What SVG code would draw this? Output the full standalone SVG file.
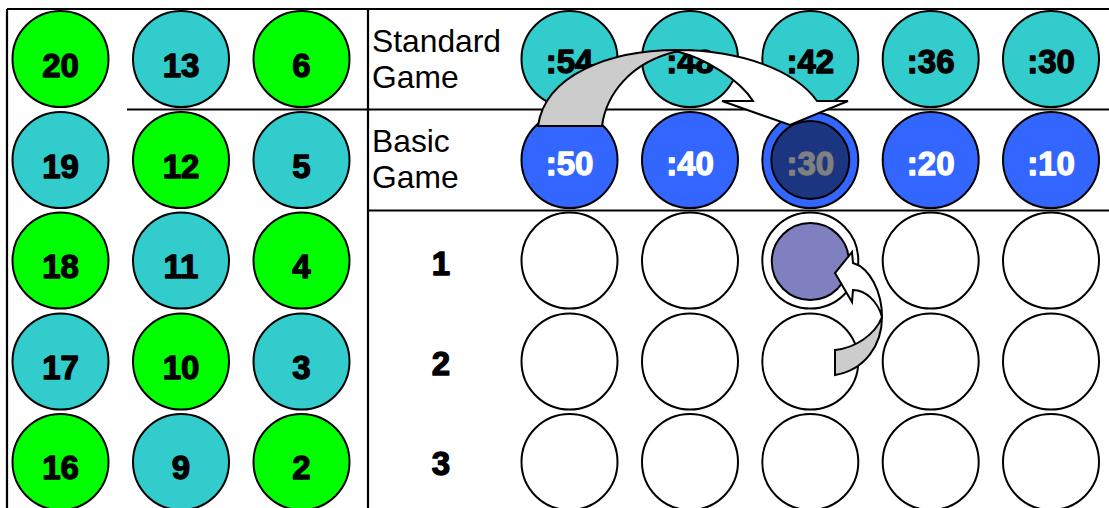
<svg xmlns="http://www.w3.org/2000/svg" width="1109" height="508" viewBox="0 0 1109 508">
<style>
.c{stroke:#000;stroke-width:2}
.g{fill:#00FF00}
.t{fill:#33CCCC}
.b{fill:#3366FF}
.w{fill:#FFFFFF}
.n{font-family:"Liberation Sans",Arial,sans-serif;font-weight:bold;font-size:33px;text-anchor:middle;fill:#000;stroke:#000;stroke-width:1.3;stroke-linejoin:round}
.nw{fill:#FFFFFF;stroke:#FFFFFF}
.ng{fill:#808080;stroke:#808080}
.lbl{font-family:"Liberation Sans",Arial,sans-serif;font-size:31.8px;fill:#000}
.ln{stroke:#000;stroke-width:2.2;fill:none}
.ar{stroke:#000;stroke-width:2;stroke-linejoin:miter}
</style>
<rect width="1109" height="508" fill="#FFFFFF"/>
<g id="grid-lines">
<line class="ln" x1="7" y1="9" x2="1109" y2="9"/>
<line class="ln" x1="7" y1="9" x2="7" y2="508"/>
<line class="ln" x1="368" y1="9" x2="368" y2="508"/>
<line class="ln" x1="127" y1="109.5" x2="1109" y2="109.5"/>
<line class="ln" x1="368" y1="210.5" x2="1109" y2="210.5"/>
</g>
<g id="left-panel">
<g id="n20"><circle class="c g" cx="60.5" cy="59" r="48"/><text class="n" x="60.5" y="76.5">20</text></g>
<g id="n13"><circle class="c t" cx="181" cy="59" r="48"/><text class="n" x="181" y="76.5">13</text></g>
<g id="n6"><circle class="c g" cx="301.5" cy="59" r="48"/><text class="n" x="301.5" y="76.5">6</text></g>
<g id="n19"><circle class="c t" cx="60.5" cy="160" r="48"/><text class="n" x="60.5" y="177.5">19</text></g>
<g id="n12"><circle class="c g" cx="181" cy="160" r="48"/><text class="n" x="181" y="177.5">12</text></g>
<g id="n5"><circle class="c t" cx="301.5" cy="160" r="48"/><text class="n" x="301.5" y="177.5">5</text></g>
<g id="n18"><circle class="c g" cx="60.5" cy="260.5" r="48"/><text class="n" x="60.5" y="278">18</text></g>
<g id="n11"><circle class="c t" cx="181" cy="260.5" r="48"/><text class="n" x="181" y="278">11</text></g>
<g id="n4"><circle class="c g" cx="301.5" cy="260.5" r="48"/><text class="n" x="301.5" y="278">4</text></g>
<g id="n17"><circle class="c t" cx="60.5" cy="361.5" r="48"/><text class="n" x="60.5" y="379">17</text></g>
<g id="n10"><circle class="c g" cx="181" cy="361.5" r="48"/><text class="n" x="181" y="379">10</text></g>
<g id="n3"><circle class="c t" cx="301.5" cy="361.5" r="48"/><text class="n" x="301.5" y="379">3</text></g>
<g id="n16"><circle class="c g" cx="60.5" cy="462" r="48"/><text class="n" x="60.5" y="479">16</text></g>
<g id="n9"><circle class="c t" cx="181" cy="462" r="48"/><text class="n" x="181" y="479">9</text></g>
<g id="n2"><circle class="c g" cx="301.5" cy="462" r="48"/><text class="n" x="301.5" y="479">2</text></g>
</g>
<g id="labels">
<text class="lbl" x="372" y="52">Standard</text>
<text class="lbl" x="372" y="88">Game</text>
<text class="lbl" x="372" y="152">Basic</text>
<text class="lbl" x="372" y="188">Game</text>
<text class="n" x="441" y="275">1</text>
<text class="n" x="441" y="375">2</text>
<text class="n" x="441" y="475">3</text>
</g>
<g id="standard-row">
<g id="s54"><circle class="c t" cx="569.5" cy="59" r="48"/><text class="n" x="569.5" y="73">:54</text></g>
<g id="s48"><circle class="c t" cx="690" cy="59" r="48"/><text class="n" x="690" y="73">:48</text></g>
<g id="s42"><circle class="c t" cx="810.3" cy="59" r="48"/><text class="n" x="810.3" y="73">:42</text></g>
<g id="s36"><circle class="c t" cx="930.7" cy="59" r="48"/><text class="n" x="930.7" y="73">:36</text></g>
<g id="s30"><circle class="c t" cx="1051" cy="59" r="48"/><text class="n" x="1051" y="73">:30</text></g>
</g>
<g id="basic-row">
<g id="b50"><circle class="c b" cx="569.5" cy="160" r="48"/><text class="n nw" x="569.5" y="175">:50</text></g>
<g id="b40"><circle class="c b" cx="690" cy="160" r="48"/><text class="n nw" x="690" y="175">:40</text></g>
<g id="b30"><circle class="c b" cx="810.3" cy="160" r="48"/><circle class="c" cx="810.3" cy="160" r="39" fill="#1C3580"/><text class="n ng" x="810.3" y="175">:30</text></g>
<g id="b20"><circle class="c b" cx="930.7" cy="160" r="48"/><text class="n nw" x="930.7" y="175">:20</text></g>
<g id="b10"><circle class="c b" cx="1051" cy="160" r="48"/><text class="n nw" x="1051" y="175">:10</text></g>
</g>
<g id="board">
<circle class="c w" cx="569.5" cy="260.5" r="48"/>
<circle class="c w" cx="690" cy="260.5" r="48"/>
<g id="selected"><circle class="c w" cx="810.3" cy="260.5" r="48"/><circle class="c" cx="810.3" cy="261.5" r="38.5" fill="#8080C0"/></g>
<circle class="c w" cx="930.7" cy="260.5" r="48"/>
<circle class="c w" cx="1051" cy="260.5" r="48"/>
<circle class="c w" cx="569.5" cy="361.5" r="48"/>
<circle class="c w" cx="690" cy="361.5" r="48"/>
<circle class="c w" cx="810.3" cy="361.5" r="48"/>
<circle class="c w" cx="930.7" cy="361.5" r="48"/>
<circle class="c w" cx="1051" cy="361.5" r="48"/>
<circle class="c w" cx="569.5" cy="462" r="48"/>
<circle class="c w" cx="690" cy="462" r="48"/>
<circle class="c w" cx="810.3" cy="462" r="48"/>
<circle class="c w" cx="930.7" cy="462" r="48"/>
<circle class="c w" cx="1051" cy="462" r="48"/>
</g>
<g id="connectors">
<path class="ar" fill="#FFFFFF" d="M677,50 C740,50 795,70 817,101 L848,101 L790,125 L722,101 L753,101 C740,80 705,58 677,51.5 Z"/>
<path class="ar" fill="#CCCCCC" d="M538,126 C545,75 610,50 677,50 L677,51.5 C630,62 606,95 602,126 Z"/>
<path class="ar" fill="#FFFFFF" d="M882,317 C882,292 870,268 853,263 L852,252 L835,273 L852,302 L853,290 C866,290 878,302 882,317 Z"/>
<path class="ar" fill="#CCCCCC" d="M882,317 C882,345 865,370 835,375 L835,350 C855,348 875,335 882,317 Z"/>
</g>
</svg>
